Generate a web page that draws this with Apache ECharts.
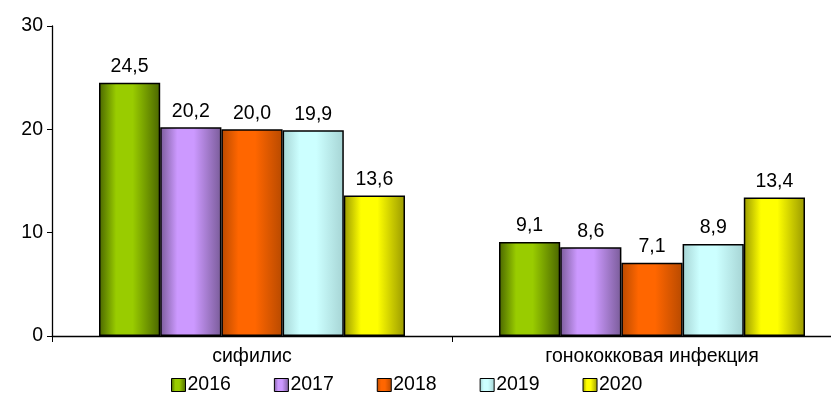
<!DOCTYPE html>
<html><head><meta charset="utf-8">
<script src="https://cdn.jsdelivr.net/npm/echarts@6/dist/echarts.min.js"></script>
<style>html,body{margin:0;padding:0;background:#fff}#c{width:831px;height:405px}</style>
</head><body><div id="c"></div>
<script>
const categories = ['сифилис', 'гонококковая инфекция'];
const years = ['2016', '2017', '2018', '2019', '2020'];
const v2016 = [24.5, 9.1];
const v2017 = [20.2, 8.6];
const v2018 = [20.0, 7.1];
const v2019 = [19.9, 8.9];
const v2020 = [13.6, 13.4];
const values = [v2016, v2017, v2018, v2019, v2020];
const palette = [
  ['#4a6600', '#99cc00'],
  ['#7a5c99', '#cc99ff'],
  ['#b84a00', '#ff6600'],
  ['#a6d4d4', '#ccffff'],
  ['#999900', '#ffff00']
];
function grad(p){
  return new echarts.graphic.LinearGradient(0,0,1,0,[
    {offset:0,color:p[0]},{offset:0.28,color:p[1]},{offset:0.55,color:p[1]},{offset:1,color:p[0]}
  ]);
}
const font = 'Liberation Sans, Arial, sans-serif';
const FS = 19.5;
const chart = echarts.init(document.getElementById('c'));
chart.setOption({
  animation:false,
  textStyle:{fontFamily:font},
  grid:{left:52,width:800,top:26,bottom:69,containLabel:false,outerBoundsMode:'none'},
  legend:{
    left:171, top:375, padding:0, itemWidth:14, itemHeight:13, itemGap:43, icon:'rect',
    textStyle:{fontSize:FS,color:'#000',fontFamily:font,padding:[0,0,0,-3]},
    itemStyle:{borderColor:'#000',borderWidth:1},
    data: years
  },
  xAxis:{
    type:'category', data:categories,
    axisLine:{lineStyle:{color:'#000',width:1.3}},
    axisTick:{show:true,length:6,lineStyle:{color:'#000'},alignWithLabel:false},
    axisLabel:{fontSize:FS,color:'#000',margin:11,fontFamily:font}
  },
  yAxis:{
    type:'value', min:0, max:30, interval:10,
    splitLine:{show:false},
    axisLine:{show:true,lineStyle:{color:'#000',width:1.3}},
    axisTick:{show:true,length:5,lineStyle:{color:'#000'}},
    axisLabel:{fontSize:FS,color:'#000',margin:9,fontFamily:font}
  },
  series: years.map((y,i)=>({
    name:y, type:'bar', data:values[i],
    barGap:'0%', barCategoryGap:'23.5%',
    itemStyle:{color:grad(palette[i]),borderColor:'#000',borderWidth:1.5},
    label:{show:true,position:'top',distance:6,fontSize:FS,color:'#000',fontFamily:font,
      formatter:p=>p.value.toFixed(1).replace('.',',')}
  }))
});
</script></body></html>
